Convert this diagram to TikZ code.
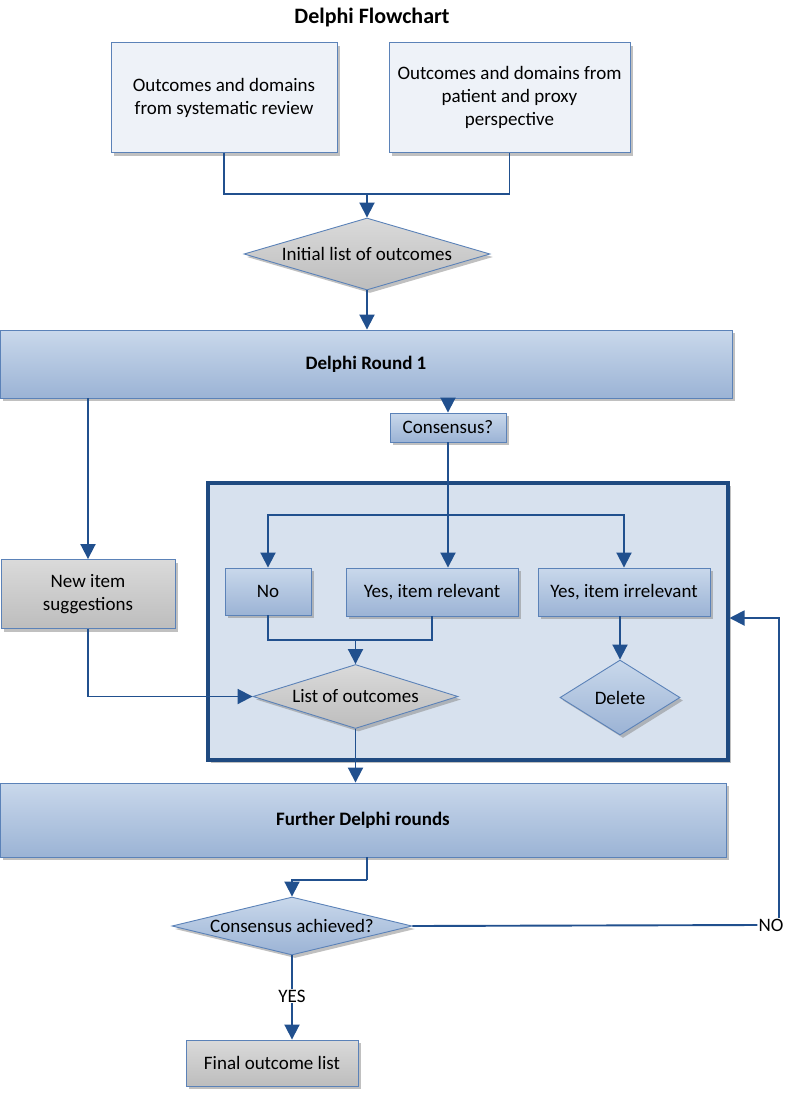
\documentclass[tikz,border=0pt]{standalone}
\usepackage{fontspec}
\setmainfont{Carlito}
\usetikzlibrary{shapes.geometric,arrows.meta,shadows}

\definecolor{arrowblue}{HTML}{21508E}
\definecolor{edgeblue}{HTML}{5B82B8}
\definecolor{lightfill}{HTML}{EEF2F8}
\definecolor{bluetop}{HTML}{C9D8EB}
\definecolor{bluebot}{HTML}{9BB3D5}
\definecolor{graytop}{HTML}{DADADA}
\definecolor{graybot}{HTML}{BDBDBD}
\definecolor{framefill}{HTML}{D7E1EE}
\definecolor{framedraw}{HTML}{1F4A80}

\begin{document}
\begin{tikzpicture}[x=1pt,y=-1pt,
  font=\fontsize{19}{23}\selectfont,
  shad/.style={drop shadow={shadow xshift=3pt,shadow yshift=-3pt,fill=black!45,opacity=0.55}},
  basebox/.style={rectangle,draw=edgeblue,line width=0.9pt,align=center,inner sep=0pt,shad},
  lightbox/.style={basebox,fill=lightfill},
  bluebox/.style={basebox,top color=bluetop,bottom color=bluebot},
  graybox/.style={basebox,top color=graytop,bottom color=graybot},
  bluediam/.style={diamond,draw=edgeblue,line width=0.9pt,inner sep=0pt,align=center,top color=bluetop,bottom color=bluebot,shad},
  graydiam/.style={diamond,draw=edgeblue,line width=0.9pt,inner sep=0pt,align=center,top color=graytop,bottom color=graybot,shad},
  conn/.style={draw=arrowblue,line width=1.9pt},
  arr/.style={conn,-{Triangle[width=15pt,length=15pt]}},
  lbl/.style={inner sep=1pt,font=\fontsize{19}{23}\selectfont},
  boldtxt/.style={font=\fontsize{19}{23}\selectfont\bfseries}
]
\useasboundingbox (0,0) rectangle (787,1093);

\node[font=\fontsize{22}{26}\selectfont\bfseries] (title) at (372,18) {Delphi Flowchart};

\node[lightbox,minimum width=226pt,minimum height=110pt] (src1) at (224,97.5)
  {Outcomes and domains\\from systematic review};
\node[lightbox,minimum width=241pt,minimum height=110pt] (src2) at (509.5,97.5)
  {Outcomes and domains from\\patient and proxy\\perspective};

\node[graydiam,minimum width=246pt,minimum height=72pt,aspect=3.4] (init) at (367,254) {Initial list of outcomes};

\node[bluebox,boldtxt,minimum width=732pt,minimum height=68pt] (round1) at (366,364) {Delphi Round 1};

\node[graybox,minimum width=174pt,minimum height=69pt] (newitem) at (88,594) {New item\\suggestions};

\node[bluebox,minimum width=116pt,minimum height=29pt] (consq) at (448,427.5) {Consensus?};

\node[rectangle,draw=framedraw,line width=4pt,fill=framefill,minimum width=520pt,minimum height=277pt,shad] (frame) at (467.5,621.5) {};

\node[bluebox,minimum width=86pt,minimum height=47pt] (no) at (268,591.5) {No};
\node[bluebox,minimum width=172pt,minimum height=48pt] (rel) at (432,592) {Yes, item relevant};
\node[bluebox,minimum width=172pt,minimum height=48pt] (irr) at (624,592) {Yes, item irrelevant};

\node[graydiam,minimum width=205pt,minimum height=64pt,aspect=3.2] (list) at (355.5,696.5) {List of outcomes};
\node[bluediam,minimum width=120pt,minimum height=75pt,aspect=1.6] (del) at (620,697.5) {Delete};

\node[bluebox,boldtxt,minimum width=726pt,minimum height=74pt] (further) at (363,820) {Further Delphi rounds};

\node[bluediam,minimum width=240pt,minimum height=58pt,aspect=4.1] (cach) at (292,926) {Consensus achieved?};

\node[lbl] (nolbl) at (771,925) {NO};
\node[lbl] (yeslbl) at (292,996) {YES};

\node[graybox,minimum width=172pt,minimum height=46pt] (final) at (272,1063) {Final outcome list};

% connectors
\coordinate (j1) at (367,194);
\draw[conn] (src1.south) |- (j1) -| (src2.south);
\draw[arr] (j1) -- (init.north);
\draw[arr] (init.south) -- (init.south |- round1.north);
\draw[arr] (round1.south -| newitem.north) -- (newitem.north);
\draw[arr] (round1.south -| consq.south) -- (consq.north);

\coordinate (br) at (448,515);
\draw[conn] (consq.south) -- (br);
\draw[arr] (br) -- (br |- rel.north);
\draw[arr] (br) -| (no.north);
\draw[arr] (br) -| (irr.north);

\coordinate (j2) at (355.5,640);
\draw[conn] (no.south) |- (j2) -| (rel.south);
\draw[arr] (j2) -- (list.north);
\draw[arr] (newitem.south) |- (list.west);
\draw[arr] (irr.south -| del.north) -- (del.north);

\draw[arr] (list.south) -- (list.south |- further.north);

\coordinate (j3) at (367,880);
\draw[conn] (further.south -| j3) -- (j3);
\draw[arr] (j3) -| (cach.north);

\draw[conn] (cach.east) -- (nolbl.west);
\coordinate (ret) at (779,618);
\draw[arr] (nolbl.north -| ret) -- (ret) -- (frame.east |- ret);

\draw[conn] (cach.south) -- (yeslbl.north);
\draw[arr] (yeslbl.south) -- (final.north -| yeslbl.south);
\end{tikzpicture}
\end{document}
